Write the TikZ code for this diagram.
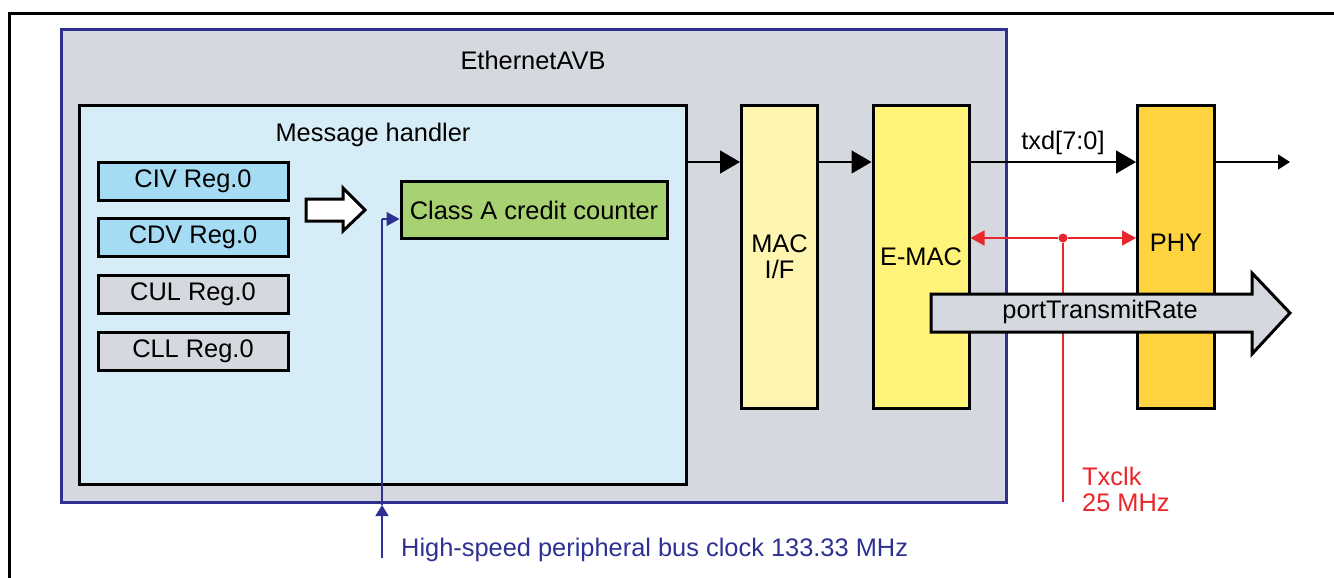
\documentclass[tikz,border=0pt]{standalone}
\usepackage{fontspec}
\setmainfont{Liberation Sans}
\usetikzlibrary{arrows.meta}
\definecolor{avbgray}{HTML}{D5D8DE}
\definecolor{avbblue}{HTML}{2E3192}
\definecolor{mhblue}{HTML}{D6ECF7}
\definecolor{regblue}{HTML}{A6DCF3}
\definecolor{cacgreen}{HTML}{A8D171}
\definecolor{macifyel}{HTML}{FDF5B0}
\definecolor{emacyel}{HTML}{FFF37A}
\definecolor{phyyel}{HTML}{FDD340}
\definecolor{clkred}{HTML}{E8262B}
\begin{document}
\begin{tikzpicture}[x=1pt,y=-1pt,
  font=\fontsize{25.4}{26}\selectfont,
  box/.style={draw=black, line width=3pt, inner sep=0pt},
  regbox/.style={box, minimum width=190pt, minimum height=38pt},
  tallbox/.style={box, minimum height=303pt, align=center},
  sig/.style={line width=1.5pt, -{Triangle[length=20pt,width=23pt]}},
  redline/.style={line width=1.5pt, draw=clkred},
  blueline/.style={line width=1.5pt, draw=avbblue}]
\useasboundingbox (0,0) rectangle (1334,578);
% outer frame
\draw[line width=3pt] (9,578) -- (9,14) -- (1334,14);
% EthernetAVB
\node[box, draw=avbblue, fill=avbgray, minimum width=945pt, minimum height=472pt] (avb) at (533.5,266) {};
\node (avbt) at (533,60) {EthernetAVB};
% Message handler
\node[box, fill=mhblue, minimum width=607pt, minimum height=379pt] (mh) at (382.5,294.5) {};
\node (mht) at (373,135) {Message handler};
\node[regbox, fill=regblue] (civ) at (193,181) {CIV Reg.0};
\node[regbox, fill=regblue] (cdv) at (193,237) {CDV Reg.0};
\node[regbox, fill=avbgray] (cul) at (193,294.5) {CUL Reg.0};
\node[regbox, fill=avbgray] (cll) at (193,351) {CLL Reg.0};
\node[box, fill=cacgreen, minimum width=266pt, minimum height=57pt] (cac) at (534,210) {Class A credit counter};
% white block arrow
\draw[line width=3pt, fill=white, line join=miter] (306,199) -- (343,199) -- (343,188) -- (365,210) -- (343,231) -- (343,221) -- (306,221) -- cycle;
% MAC I/F, E-MAC, PHY
\node[tallbox, fill=macifyel, minimum width=76pt] (macif) at (779.5,256.5) {MAC\\I/F};
\node[tallbox, fill=emacyel, minimum width=96pt] (emac) at (921,256.5) {E-MAC};
\node[tallbox, fill=phyyel, minimum width=77pt] (phy) at (1176,256.5) {};
\node (phyt) at (1176,243) {PHY};
% data arrows
\coordinate (ydata) at (0,162);
\coordinate (out) at (1290,162);
\draw[sig] (mh.east |- ydata) -- (macif.west |- ydata);
\draw[sig] (macif.east |- ydata) -- (emac.west |- ydata);
\draw[sig] (emac.east |- ydata) -- (phy.west |- ydata);
\node (txd) at (1063,143) {txd[7:0]};
\draw[line width=1.5pt, -{Triangle[length=12pt,width=15pt]}] (phy.east |- ydata) -- (out);
% Txclk
\node[circle, fill=clkred, inner sep=0pt, minimum size=9pt] (dot) at (1063,238) {};
\coordinate (txbot) at (1063,502);
\draw[redline, -{Triangle[length=14pt,width=15pt]}] (dot) -- (emac.east |- dot);
\draw[redline, -{Triangle[length=14pt,width=15pt]}] (dot) -- (phy.west |- dot);
\draw[redline] (dot) -- (txbot);
\node[anchor=west, align=left, text=clkred, inner sep=0pt] (txclk) at (1082,489) {Txclk\\25 MHz};
% bus clock
\coordinate (clkbot) at (382,558);
\coordinate (clkup) at (382,505);
\coordinate (cacin) at (cac.west |- 0,219);
\draw[blueline, -{Triangle[length=11pt,width=13pt]}, fill=avbblue] (clkbot) -- (clkup);
\draw[blueline] (clkup) -- (382,219);
\draw[blueline, -{Triangle[length=13pt,width=14pt]}, fill=avbblue] (382,219) -- (cacin);
\node[anchor=west, text=avbblue, inner sep=0pt] (hsclk) at (401,550) {High-speed peripheral bus clock 133.33 MHz};
% portTransmitRate big arrow
\draw[line width=3pt, fill=avbgray, line join=miter] (931,294) -- (1252,294) -- (1252,273) -- (1290,313) -- (1252,354) -- (1252,332) -- (931,332) -- cycle;
\node (ptr) at (1100,312) {portTransmitRate};
\end{tikzpicture}
\end{document}
